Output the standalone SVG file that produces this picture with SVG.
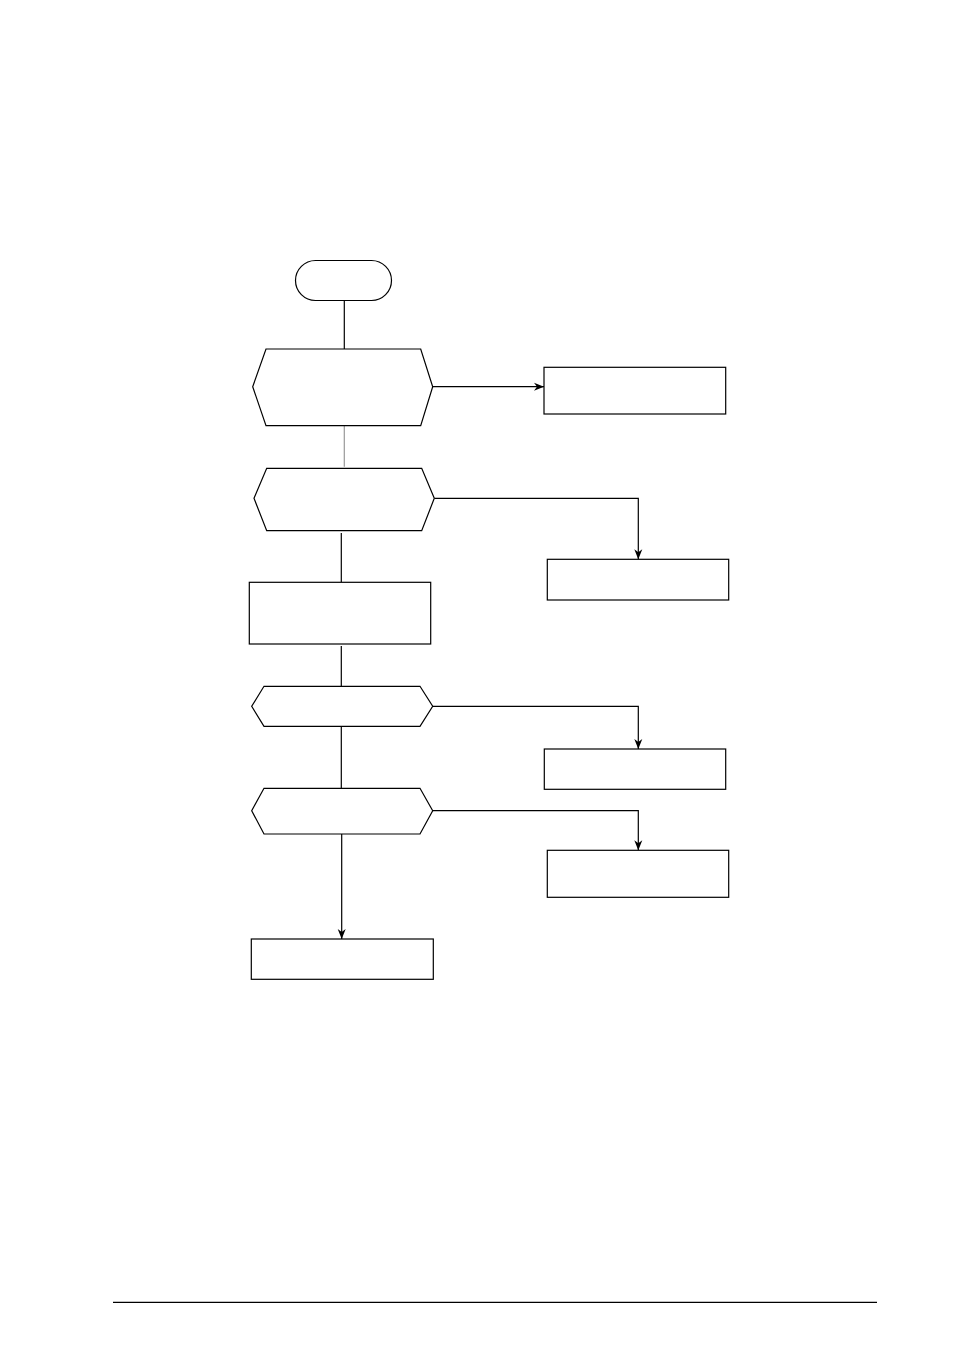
<svg xmlns="http://www.w3.org/2000/svg" width="954" height="1351" viewBox="0 0 954 1351">
<style>
.n{fill:#fff;stroke:#000;stroke-width:1.2}
.c{fill:none;stroke:#000;stroke-width:1.2}
.g{stroke:#999}
</style>
<defs>
<marker id="ah" viewBox="0 0 10 10" refX="10" refY="5" markerWidth="10" markerHeight="10" markerUnits="userSpaceOnUse" orient="auto">
<path d="M0,1 L10,5 L0,9 L3,5 z" fill="#000"/>
</marker>
</defs>
<rect width="954" height="1351" fill="#fff"/>
<g id="connectors">
<line class="c" x1="344.3" y1="300.7" x2="344.3" y2="349"/>
<line class="c" x1="432.7" y1="386.7" x2="544" y2="386.7" marker-end="url(#ah)"/>
<line class="c g" x1="344.3" y1="425.7" x2="344.3" y2="466.7" stroke-width="1.5"/>
<polyline class="c" points="434.3,498.3 638.3,498.3 638.3,559.3" marker-end="url(#ah)"/>
<line class="c" x1="341.3" y1="533" x2="341.3" y2="582.3"/>
<line class="c" x1="341.3" y1="646" x2="341.3" y2="686.3"/>
<polyline class="c" points="432.7,706.3 638.3,706.3 638.3,749" marker-end="url(#ah)"/>
<line class="c" x1="341.3" y1="726.3" x2="341.3" y2="788.3"/>
<polyline class="c" points="432.7,810.7 638.3,810.7 638.3,850.3" stroke="#555" marker-end="url(#ah)"/>
<line class="c" x1="341.7" y1="834" x2="341.7" y2="939" marker-end="url(#ah)"/>
</g>
<g id="start"><rect class="n" x="295.5" y="260.5" width="96" height="40" rx="20" ry="20" stroke="#333"/></g>
<g id="hex1"><polygon class="n" stroke="#888" points="266,349 420.7,349 432.7,386.7 420.7,425.7 266,425.7 252.7,386.7"/></g>
<g id="box1"><rect class="n" x="544" y="367.3" width="181.7" height="46.7"/></g>
<g id="hex2"><polygon class="n" points="266.7,468.3 421.7,468.3 434.3,498.3 421.7,530.7 266.7,530.7 254,498.3"/></g>
<g id="box2"><rect class="n" x="547.3" y="559.3" width="181.4" height="40.7"/></g>
<g id="process"><rect class="n" x="249.3" y="582.3" width="181.4" height="61.7"/></g>
<g id="hex3"><polygon class="n" points="264,686.3 420,686.3 432.7,706.3 420,726.3 264,726.3 251.7,706.3"/></g>
<g id="box3"><rect class="n" x="544.3" y="749" width="181.4" height="40.3"/></g>
<g id="hex4"><polygon class="n" stroke="#555" points="264,788.3 420,788.3 432.7,810.7 420,834 264,834 251.7,810.7"/></g>
<g id="box4"><rect class="n" x="547.3" y="850.3" width="181.4" height="47"/></g>
<g id="end"><rect class="n" x="251.3" y="939" width="182" height="40.3"/></g>
<line x1="113" y1="1302.3" x2="877" y2="1302.3" stroke="#000" stroke-width="1.2"/>
</svg>
